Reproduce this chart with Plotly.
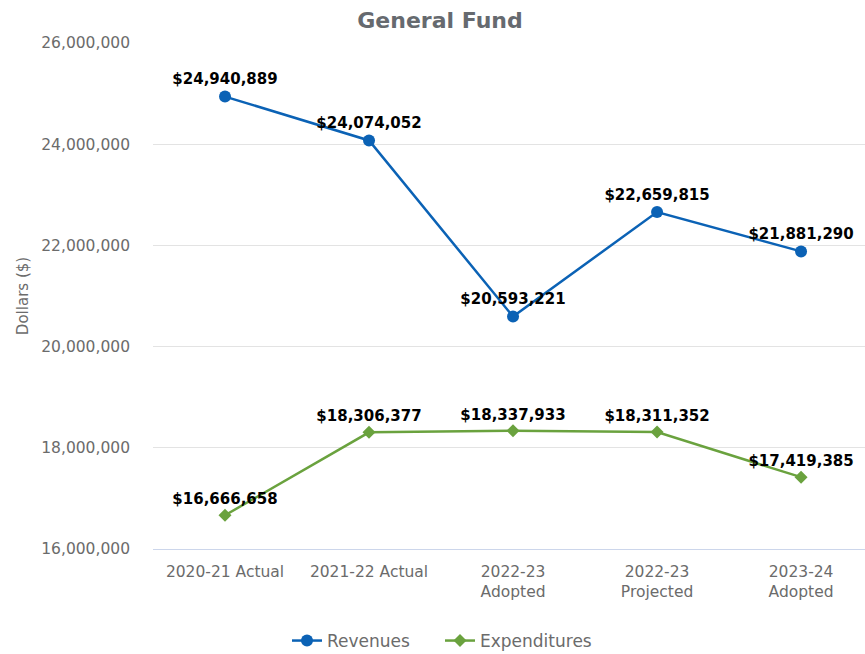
import plotly.graph_objects as go

categories = ["2020-21 Actual", "2021-22 Actual", "2022-23<br>Adopted", "2022-23<br>Projected", "2023-24<br>Adopted"]
revenues = [24940889, 24074052, 20593221, 22659815, 21881290]
expenditures = [16666658, 18306377, 18337933, 18311352, 17419385]
y_ticks = [16000000, 18000000, 20000000, 22000000, 24000000, 26000000]

FONT = "DejaVu Sans"
BLUE = "#0b62b5"
GREEN = "#6aa23e"
GRAY = "#6b6b6b"

def fmt(v):
    return "${:,.0f}".format(v)

fig = go.Figure()
fig.add_trace(go.Scatter(
    x=list(range(len(categories))), y=revenues, name="Revenues",
    mode="lines+markers+text",
    line=dict(color=BLUE, width=2.5),
    marker=dict(symbol="circle", size=12, color=BLUE),
    text=[fmt(v) for v in revenues], textposition="top center",
    textfont=dict(family=FONT, size=15, color="#000000", weight="bold"),
    cliponaxis=False,
))
fig.add_trace(go.Scatter(
    x=list(range(len(categories))), y=expenditures, name="Expenditures",
    mode="lines+markers+text",
    line=dict(color=GREEN, width=2.5),
    marker=dict(symbol="diamond", size=10, color=GREEN),
    text=[fmt(v) for v in expenditures], textposition="top center",
    textfont=dict(family=FONT, size=15, color="#000000", weight="bold"),
    cliponaxis=False,
))

fig.update_layout(
    width=865, height=654,
    margin=dict(l=153, r=0, t=43, b=105, autoexpand=False),
    paper_bgcolor="white", plot_bgcolor="white",
    font=dict(family=FONT, color=GRAY, size=15),
    title=dict(text="<b>General Fund</b>", xref="container", x=440 / 865, xanchor="center",
               y=1 - 20 / 654, yanchor="middle",
               font=dict(family=FONT, size=22, color="#666a6f")),
    showlegend=True,
    legend=dict(orientation="h", xref="container", x=440 / 865, xanchor="center",
                y=-(641 - 549) / 506, yanchor="middle", itemwidth=30,
                entrywidth=108, entrywidthmode="pixels",
                font=dict(family=FONT, size=17, color=GRAY)),
    xaxis=dict(
        tickmode="array", tickvals=list(range(len(categories))), ticktext=categories,
        range=[-0.5, 4.444], showgrid=False, zeroline=False,
        showline=True, linecolor="#ccd6eb", linewidth=1,
        ticklabelstandoff=8,
        tickfont=dict(family=FONT, size=15.5, color=GRAY),
    ),
    yaxis=dict(
        range=[16000000, 26000000], tickvals=y_ticks,
        tickformat=",.0f", showgrid=True, gridcolor="#e3e3e3", gridwidth=1,
        zeroline=False, showline=False, ticklen=0,
        ticklabelstandoff=22,
        tickfont=dict(family=FONT, size=15.5, color=GRAY),
        title=dict(text="Dollars ($)", font=dict(family=FONT, size=15, color=GRAY), standoff=9),
    ),
)

fig.write_html("out.html", config={"displayModeBar": False},
               post_script="document.body.style.margin='0';")
